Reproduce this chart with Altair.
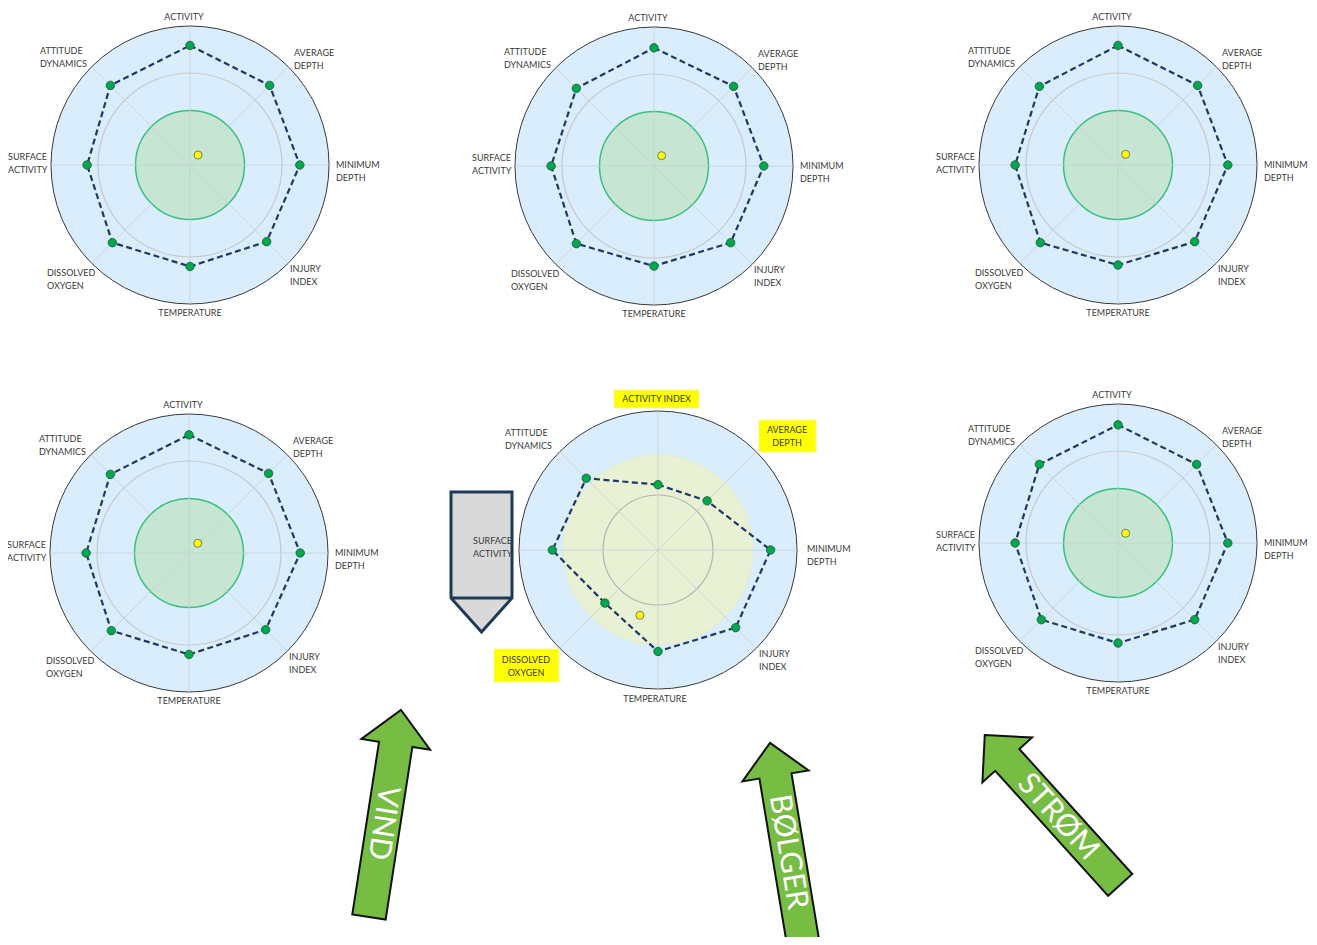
import altair as alt
import numpy as np
import pandas as pd

# ---------------- data ----------------
AXES = ["ACTIVITY", "AVERAGE DEPTH", "MINIMUM DEPTH", "INJURY INDEX",
        "TEMPERATURE", "DISSOLVED OXYGEN", "SURFACE ACTIVITY", "ATTITUDE DYNAMICS"]
MID_AXES = ["ACTIVITY INDEX", "AVERAGE DEPTH", "MINIMUM DEPTH", "INJURY INDEX",
            "TEMPERATURE", "DISSOLVED OXYGEN", "SURFACE ACTIVITY", "ATTITUDE DYNAMICS"]
HIGHLIGHTED = ["ACTIVITY INDEX", "AVERAGE DEPTH", "DISSOLVED OXYGEN"]

RADARS = ["Top left", "Top centre", "Top right", "Bottom left", "Bottom centre", "Bottom right"]
top_left = [86, 81, 79, 78, 73, 79, 74, 81]
top_centre = [85, 81, 79, 78, 72, 79, 74, 79]
top_right = [86, 81, 79, 78, 72, 79, 74, 80]
bottom_left = [85, 81, 80, 78, 73, 79, 74, 80]
bottom_centre = [47, 50, 81, 79, 73, 54, 76, 73]
bottom_right = [85, 80, 79, 78, 72, 78, 74, 80]
SCORES = [top_left, top_centre, top_right, bottom_left, bottom_centre, bottom_right]

# yellow marker (x to the right, y upwards, same 0-100 scale as scores)
marker_x = [5.8, 5.5, 5.5, 6.3, -13.0, 5.5]
marker_y = [7.2, 7.4, 7.7, 7.0, -47.0, 7.0]

ARROW_LABELS = ["VIND", "BØLGER", "STRØM"]

# ---------------- layout ----------------
W, H = 1301, 929
CENTRES = [(190, 165), (654, 166), (1118, 165), (189, 553), (658, 550), (1118, 543)]
MID = 4
R = 139.0
# per-axis label placement for the standard radars: (align, dx, dy)
STD_LAB = [("center", -6, -148), ("left", 104, -112), ("left", 146, 0), ("left", 100, 104),
           ("center", 0, 148), ("left", -143, 108), ("left", -182, -8), ("left", -150, -114)]
MID_LAB = [("center", -1.5, -151), ("center", 129, -120), ("left", 149, -1), ("left", 101, 104),
           ("center", -3, 149), ("center", -132, 110), ("left", -185, -9), ("left", -153, -117)]
HL_BOXES = [(614, 699, 390, 408), (759, 816, 420, 452), (494, 559, 649, 682)]
LINE_H = 12.5

xs = alt.Scale(domain=[8, 8 + W], nice=False, zero=False)
ys = alt.Scale(domain=[8, 8 + H], reverse=True, nice=False, zero=False)


def X(f="x"):
    return alt.X(f"{f}:Q", scale=xs, axis=None)


def Y(f="y"):
    return alt.Y(f"{f}:Q", scale=ys, axis=None)


theta = np.deg2rad(np.arange(8) * 45.0)

discs, rings, spokes, verts, marks, labels = [], [], [], [], [], []
for k, name in enumerate(RADARS):
    cx, cy = CENTRES[k]
    discs.append(dict(x=cx, y=cy, size=(2 * R) ** 2, fill="#d9edfc", stroke="#3a3a3a", sw=1.0))
    if k == MID:
        discs.append(dict(x=cx, y=cy, size=(2 * 95) ** 2, fill="#e8f1d3", stroke="#e3ecd0", sw=1.0))
        rings.append(dict(x=cx, y=cy, size=(2 * 55) ** 2, stroke="#b4b4b4"))
    else:
        discs.append(dict(x=cx, y=cy, size=(2 * 54.5) ** 2, fill="#c6e5d2", stroke="#3cc07e", sw=1.5))
        rings.append(dict(x=cx, y=cy, size=(2 * 92) ** 2, stroke="#c8c8c8"))
    for t in theta:
        spokes.append(dict(x=cx, y=cy, x2=cx + R * np.sin(t), y2=cy - R * np.cos(t)))
    vals = SCORES[k]
    for i in range(9):
        j = i % 8
        r = vals[j] / 100.0 * R
        verts.append(dict(radar=name, order=i, x=cx + r * np.sin(theta[j]), y=cy - r * np.cos(theta[j])))
    marks.append(dict(x=cx + marker_x[k] / 100.0 * R, y=cy - marker_y[k] / 100.0 * R))
    names = MID_AXES if k == MID else AXES
    lay = MID_LAB if k == MID else STD_LAB
    for j, lab in enumerate(names):
        align, dx, dy = lay[j]
        lines = [lab] if lab == "ACTIVITY INDEX" else lab.split(" ")
        for li, txt in enumerate(lines):
            labels.append(dict(x=cx + dx, y=cy + dy + li * LINE_H, text=txt, align=align))

disc_df = pd.DataFrame(discs)
ring_df = pd.DataFrame(rings)
spoke_df = pd.DataFrame(spokes)
vert_df = pd.DataFrame(verts)
mark_df = pd.DataFrame(marks)
lab_df = pd.DataFrame(labels)
box_df = pd.DataFrame([dict(x=a, x2=b, y=c, y2=d) for a, b, c, d in HL_BOXES])

# arrows (custom symbol paths in pixel units, size 4 => scale 1)
GREEN_ARROW = "M0,-102.5L34,-68.5L16.5,-68.5L16.5,102.5L-16.5,102.5L-16.5,-68.5L-34,-68.5Z"
GREY_ARROW = "M-30.5,-70L30.5,-70L30.5,36L0,70L-30.5,36ZM-30.5,36L30.5,36"
arrow_df = pd.DataFrame(dict(
    x=[385, 786.5, 1052.5], y=[813.5, 842.5, 810],
    angle=[8.8, 350.6, 317.9],
    size=[4 * (209.5 / 205) ** 2, 4 * (202 / 205) ** 2, 4 * (202 / 205) ** 2],
))
arrow_text_df = pd.DataFrame(dict(
    x=[383, 788, 1058], y=[823, 852, 817], angle=[98.8, 80.6, 47.9], text=ARROW_LABELS))
grey_df = pd.DataFrame(dict(x=[481.5], y=[562]))

# ---------------- layers ----------------
disc_layer = alt.Chart(disc_df).mark_point(shape="circle", filled=True, opacity=1).encode(
    x=X(), y=Y(), size=alt.Size("size:Q", scale=None),
    fill=alt.Fill("fill:N", scale=None), stroke=alt.Stroke("stroke:N", scale=None),
    strokeWidth=alt.StrokeWidth("sw:Q", scale=None))

ring_layer = alt.Chart(ring_df).mark_point(shape="circle", filled=False, opacity=1, strokeWidth=1.2).encode(
    x=X(), y=Y(), size=alt.Size("size:Q", scale=None), stroke=alt.Stroke("stroke:N", scale=None))

spoke_layer = alt.Chart(spoke_df).mark_rule(color="#c6ced6", strokeWidth=1, opacity=0.75).encode(
    x=X(), y=Y(), x2="x2:Q", y2="y2:Q")

poly_layer = alt.Chart(vert_df).mark_line(color="#1f3864", strokeWidth=2.2, strokeDash=[6, 3.5]).encode(
    x=X(), y=Y(), detail="radar:N", order="order:Q")

dot_layer = alt.Chart(vert_df).transform_filter("datum.order < 8").mark_circle(
    size=72, color="#00a74f", stroke="#1f5a36", strokeWidth=0.8, opacity=1).encode(x=X(), y=Y())

yellow_layer = alt.Chart(mark_df).mark_circle(
    size=64, color="#ffff00", stroke="#6b6b6b", strokeWidth=0.9, opacity=1).encode(x=X(), y=Y())

box_layer = alt.Chart(box_df).mark_rect(fill="#ffff00", stroke="#f5f590", strokeWidth=1).encode(
    x=X(), y=Y(), x2="x2:Q", y2="y2:Q")

grey_layer = alt.Chart(grey_df).mark_point(
    shape=GREY_ARROW, size=4, filled=True, fill="#d9d9d9", stroke="#1f3a56", strokeWidth=3,
    opacity=1, strokeJoin="miter").encode(x=X(), y=Y())

lab_left = alt.Chart(lab_df[lab_df["align"] == "left"]).mark_text(
    align="left", baseline="middle", font="Lato", fontSize=9, color="#3a3a3a").encode(
    x=X(), y=Y(), text="text:N")
lab_center = alt.Chart(lab_df[lab_df["align"] == "center"]).mark_text(
    align="center", baseline="middle", font="Lato", fontSize=9, color="#3a3a3a").encode(
    x=X(), y=Y(), text="text:N")

arrow_layer = alt.Chart(arrow_df).mark_point(
    shape=GREEN_ARROW, filled=True, fill="#77bd43", stroke="#111111", strokeWidth=2,
    opacity=1, strokeJoin="miter").encode(
    x=X(), y=Y(), size=alt.Size("size:Q", scale=None), angle=alt.Angle("angle:Q", scale=None))

arrow_text_layer = alt.Chart(arrow_text_df).mark_text(
    align="center", baseline="middle", font="Lato", fontSize=30, color="white").encode(
    x=X(), y=Y(), text="text:N", angle=alt.Angle("angle:Q", scale=None))

chart = alt.layer(
    disc_layer, ring_layer, spoke_layer, poly_layer, dot_layer, yellow_layer,
    box_layer, grey_layer, lab_left, lab_center, arrow_layer, arrow_text_layer,
).properties(
    width=W, height=H, autosize=alt.AutoSizeParams(type="none"), padding=0, background="white"
).configure_view(strokeWidth=0)

chart.save("out.html", embed_options={"renderer": "svg", "actions": False})
